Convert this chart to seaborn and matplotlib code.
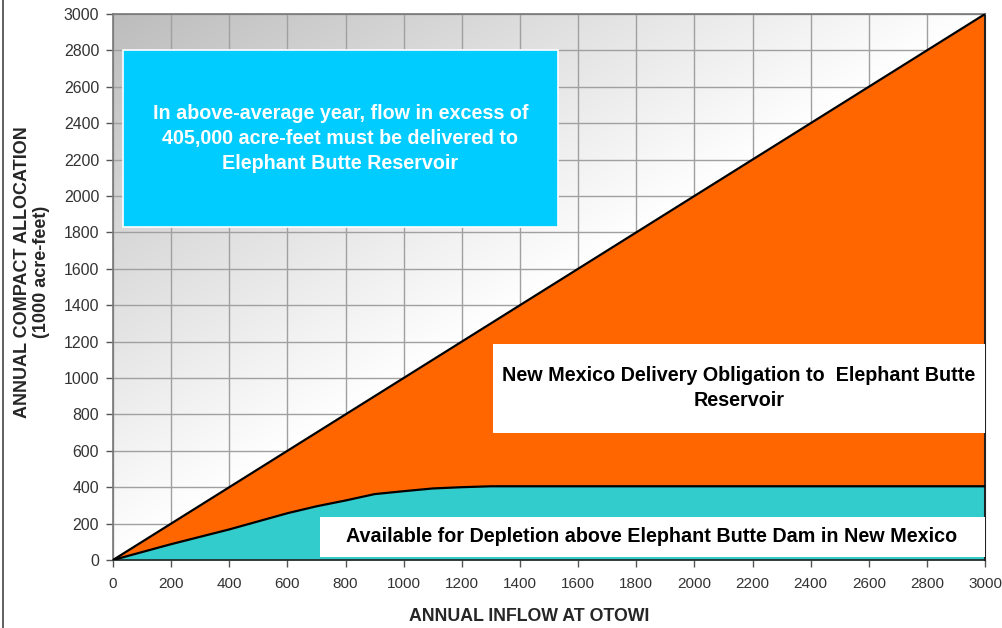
import numpy as np
import pandas as pd
import matplotlib
matplotlib.use("Agg")
import matplotlib.pyplot as plt
from matplotlib.patches import Rectangle
from matplotlib.lines import Line2D
import seaborn as sns

# ---- data ----
inflow = [0, 200, 400, 600, 700, 800, 900, 1000, 1100, 1200, 1300, 3000]
depletion = [0, 87, 168, 257, 295, 327, 362, 378, 393, 400, 405, 405]
total_allocation = [0, 200, 400, 600, 700, 800, 900, 1000, 1100, 1200, 1300, 3000]

x_ticks = list(range(0, 3001, 200))
y_ticks = list(range(0, 3001, 200))

note_text = "In above-average year, flow in excess of\n405,000 acre-feet must be delivered to\nElephant Butte Reservoir"
delivery_text = "New Mexico Delivery Obligation to  Elephant Butte\nReservoir"
depletion_text = "Available for Depletion above Elephant Butte Dam in New Mexico"
y_label = "ANNUAL COMPACT ALLOCATION\n(1000 acre-feet)"
x_label = "ANNUAL INFLOW AT OTOWI"

df = pd.DataFrame({"inflow": inflow, "depletion": depletion, "total": total_allocation})

sns.set_style("white")
plt.rcParams["font.family"] = ["Liberation Sans", "DejaVu Sans"]

fig = plt.figure(figsize=(10.02, 6.28), dpi=100)
ax = fig.add_axes([0.1128, 0.1083, 0.8703, 0.8694])

# gradient background (gray top-left -> white bottom-right)
gx, gy = np.meshgrid(np.linspace(0, 1, 300), np.linspace(1, 0, 300))
s = np.clip(gx + (1 - gy), 0, 1)
g = 0.74 + 0.26 * s
ax.imshow(np.dstack([g, g, g]), extent=[0, 3000, 0, 3000], aspect="auto",
          origin="upper", zorder=0, interpolation="bilinear")

# fills
ax.fill_between(df["inflow"], df["depletion"], df["total"], color="#FF6600", lw=0, zorder=2)
ax.fill_between(df["inflow"], 0, df["depletion"], color="#33CCCC", lw=0, zorder=2)
sns.lineplot(data=df, x="inflow", y="total", color="black", lw=1.6, ax=ax, zorder=3)
sns.lineplot(data=df, x="inflow", y="depletion", color="black", lw=1.6, ax=ax, zorder=3)

# text boxes
ax.add_patch(Rectangle((35, 1830), 1495, 970, facecolor="#00CCFF", edgecolor="white", lw=1.2, zorder=4))
ax.text(782, 2315, note_text, ha="center", va="center", color="white", fontsize=14.2,
        fontweight="bold", linespacing=1.42, zorder=5)

ax.add_patch(Rectangle((1307, 698), 1693, 489, facecolor="white", edgecolor="none", zorder=4))
ax.text(2153, 945, delivery_text, ha="center", va="center", color="black", fontsize=14.2,
        fontweight="bold", linespacing=1.4, zorder=5)

ax.add_patch(Rectangle((712, 16), 2288, 220, facecolor="white", edgecolor="none", zorder=4))
ax.text(1851, 130, depletion_text, ha="center", va="center", color="black", fontsize=14.2,
        fontweight="bold", zorder=5)

# axes styling
ax.set_xlim(0, 3000)
ax.set_ylim(0, 3000)
ax.set_xticks(x_ticks)
ax.set_yticks(y_ticks)
ax.grid(True, color="#A0A0A0", lw=1.0)
ax.set_axisbelow(True)
ax.tick_params(axis="both", which="both", direction="out", length=5, width=1,
               color="#555555", labelcolor="#333333", labelsize=11, bottom=True, left=True)
ax.tick_params(axis="x", pad=7)
ax.tick_params(axis="y", pad=5, labelsize=11.4)
for side in ["left", "top"]:
    ax.spines[side].set_color("#777777")
    ax.spines[side].set_linewidth(1.2)
ax.spines["right"].set_color("#222222")
ax.spines["right"].set_linewidth(1.5)
ax.spines["bottom"].set_color("#222222")
ax.spines["bottom"].set_linewidth(1.2)

ax.set_xlabel("")
ax.set_ylabel("")
fig.text(0.528, 0.019, x_label, ha="center", va="center", fontsize=12.8, fontweight="bold")
fig.text(0.032, 0.567, y_label, ha="center", va="center", rotation=90, fontsize=13,
         fontweight="bold", linespacing=1.1)

# left frame line
fig.add_artist(Line2D([0.003, 0.003], [0, 1], transform=fig.transFigure, color="#444444", lw=1.2))

fig.savefig("out.png", dpi=100)
